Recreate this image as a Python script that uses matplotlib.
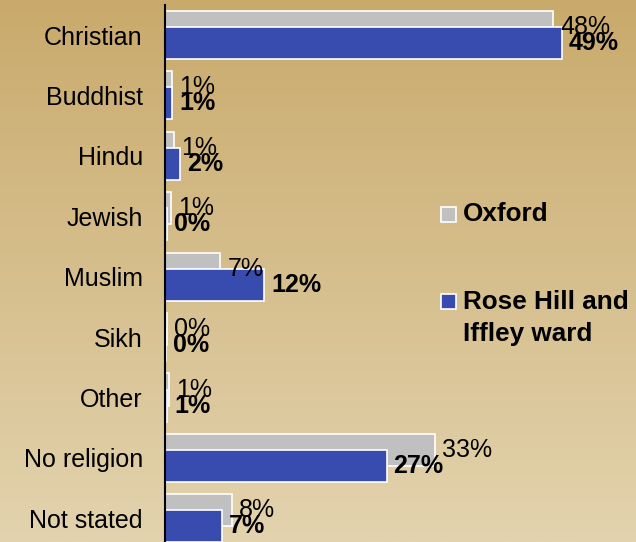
import numpy as np
import matplotlib.pyplot as plt
from matplotlib.patches import Rectangle

plt.rcParams['font.family'] = ['Liberation Sans', 'DejaVu Sans']

categories = ["Christian", "Buddhist", "Hindu", "Jewish", "Muslim", "Sikh",
              "Other", "No religion", "Not stated"]
oxford = [47.6, 0.9, 1.1, 0.7, 6.8, 0.2, 0.5, 33.1, 8.2]
rose_hill = [48.7, 0.9, 1.9, 0.2, 12.2, 0.1, 0.3, 27.2, 7.0]
oxford_labels = ["48%", "1%", "1%", "1%", "7%", "0%", "1%", "33%", "8%"]
rose_hill_labels = ["49%", "1%", "2%", "0%", "12%", "0%", "1%", "27%", "7%"]

W, H = 636, 542
fig = plt.figure(figsize=(W / 100, H / 100), dpi=100)

# background gradient
bg = fig.add_axes([0, 0, 1, 1], zorder=-1)
top = np.array([201, 170, 108]) / 255
bot = np.array([227, 211, 174]) / 255
t = np.linspace(0, 1, 256)[:, None]
grad = top + (bot - top) * t
bg.imshow(grad[:, None, :].repeat(2, axis=1), aspect='auto', extent=[0, 1, 0, 1])
bg.axis('off')

ax = fig.add_axes([165 / W, -6.6 / H, 1 - 165 / W, (548.6 - 4.8) / H])
ax.set_facecolor('none')

y = np.arange(len(categories))
h = 0.53
off = 0.133
grey = "#C0C0C0"
blue = "#384BAE"
ax.barh(y - off, oxford, height=h, color=grey, edgecolor='white', linewidth=1.2)
ax.barh(y + off, rose_hill, height=h, color=blue, edgecolor='white', linewidth=1.2)

for i in range(len(categories)):
    ax.annotate(oxford_labels[i], (oxford[i], y[i] - off), xytext=(5, 0),
                textcoords='offset points', va='center', ha='left', fontsize=18)
    ax.annotate(rose_hill_labels[i], (rose_hill[i], y[i] + off), xytext=(5, 0),
                textcoords='offset points', va='center', ha='left', fontsize=18,
                fontweight='bold')

ax.set_ylim(len(categories) - 0.5, -0.5)
ax.set_xlim(0, (W - 165) / 8.15)
ax.set_yticks(y)
ax.set_yticklabels(categories, fontsize=18)
ax.tick_params(axis='y', length=0, pad=16)
ax.set_xticks([])
for s in ['top', 'right', 'bottom']:
    ax.spines[s].set_visible(False)
ax.spines['left'].set_linewidth(1.5)
ax.spines['left'].set_color('black')

# legend
def px(x, yy):
    return x / W, 1 - yy / H

for (yc, col) in [(214, grey), (301, blue)]:
    x0, y0 = px(441, yc + 7.5)
    fig.patches.append(Rectangle((x0, y0), 15 / W, 15 / H, transform=fig.transFigure,
                                 facecolor=col, edgecolor='white', linewidth=1.2))
fig.text(*px(463, 214), "Oxford", fontsize=18.8, fontweight='bold', va='center')
fig.text(*px(463, 302), "Rose Hill and", fontsize=18.8, fontweight='bold', va='center')
fig.text(*px(463, 334), "Iffley ward", fontsize=18.8, fontweight='bold', va='center')

fig.savefig("out.png", dpi=100)
